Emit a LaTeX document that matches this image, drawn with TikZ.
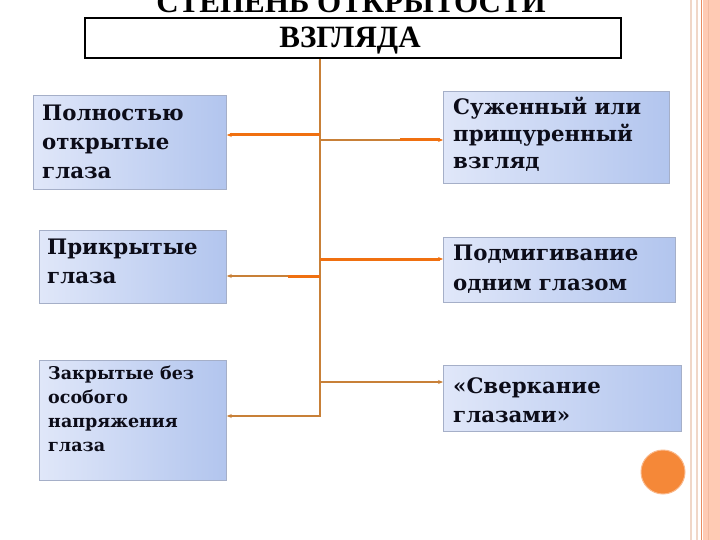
\documentclass[tikz,border=0pt]{standalone}
\usepackage{fontspec}
\setmainfont{DejaVu Serif}
\newfontfamily\titlefont{Liberation Serif}
\newfontfamily\bodyfont{DejaVu Serif}
\usetikzlibrary{arrows.meta}
\definecolor{trunk}{RGB}{200,128,56}
\definecolor{hot}{RGB}{240,112,16}
\definecolor{boxL}{RGB}{224,231,249}
\definecolor{boxR}{RGB}{178,197,238}
\definecolor{boxedge}{RGB}{165,175,200}
\definecolor{peach}{RGB}{255,202,180}
\definecolor{stripeD}{RGB}{232,140,100}
\definecolor{stripeL}{RGB}{240,215,200}
\definecolor{dot}{RGB}{245,136,56}
\definecolor{dotedge}{RGB}{250,185,140}
\definecolor{ink}{RGB}{12,12,24}
\begin{document}
\begin{tikzpicture}[x=1pt,y=-1pt,
  boxnode/.style={draw=boxedge, line width=0.8pt, left color=boxL, right color=boxR, anchor=north west, inner sep=0pt},
  txt/.style={anchor=north west, inner sep=0pt, align=left, font=\bodyfont\bfseries\fontsize{21.3}{29}\selectfont, text=ink},
  ttl/.style={anchor=base, inner sep=0pt, font=\titlefont\bfseries\fontsize{31}{36}\selectfont},
  thinl/.style={draw=trunk, line width=1.2pt},
  thickl/.style={draw=hot, line width=3pt},
  tip/.style={-{Stealth[length=5pt,width=4pt]}}
]
\useasboundingbox (0,0) rectangle (720,540);
\clip (0,0) rectangle (720,540);
% right edge decoration
\fill[peach] (703,0) rectangle (720,540);
\draw[stripeD, line width=1.5pt] (701.5,0) -- (701.5,540);
\draw[stripeD!60, line width=0.8pt] (708,0) -- (708,540);
\draw[stripeL, line width=2pt] (690.5,0) -- (690.5,540);
\draw[stripeL, line width=2pt] (697,0) -- (697,540);
% title
\node[draw=black, line width=2pt, fill=white, anchor=north west, minimum width=536pt, minimum height=40pt, inner sep=0pt] (T) at (84,17) {};
\node[ttl] (T1) at (351,13) {СТЕПЕНЬ ОТКРЫТОСТИ};
\node[ttl] (T2) at (350,48) {ВЗГЛЯДА};
% boxes
\node[boxnode, minimum width=193pt, minimum height=94pt] (L1) at (33,95) {};
\node[boxnode, minimum width=187pt, minimum height=73pt] (L2) at (39,230) {};
\node[boxnode, minimum width=187pt, minimum height=120pt] (L3) at (39,360) {};
\node[boxnode, minimum width=226pt, minimum height=92pt] (R1) at (443,91) {};
\node[boxnode, minimum width=232pt, minimum height=65pt] (R2) at (443,237) {};
\node[boxnode, minimum width=238pt, minimum height=66pt] (R3) at (443,365) {};
% texts
\node[txt] (L1t) at (42,105) {Полностью\\открытые\\глаза};
\node[txt] (L2t) at (47,239) {Прикрытые\\глаза};
\node[txt, font=\bodyfont\bfseries\fontsize{17.5}{24}\selectfont] (L3t) at (48,366) {Закрытые без\\особого\\напряжения\\глаза};
\node[txt, font=\bodyfont\bfseries\fontsize{21.3}{27}\selectfont] (R1t) at (453,97) {Суженный или\\прищуренный\\взгляд};
\node[txt, font=\bodyfont\bfseries\fontsize{21.3}{30}\selectfont] (R2t) at (453,245) {Подмигивание\\одним глазом};
\node[txt, font=\bodyfont\bfseries\fontsize{21.3}{29}\selectfont] (R3t) at (453,377) {«Сверкание\\глазами»};
% connectors
\coordinate (j1) at (320,135);
\coordinate (j2) at (320,140);
\coordinate (k2) at (400,140);
\coordinate (j3) at (320,259);
\coordinate (j4) at (320,276);
\coordinate (k4) at (288,276);
\coordinate (j5) at (320,382);
\coordinate (j6) at (320,416);
\coordinate (k6) at (262,416);
\draw[thinl] (T.south -| j1) -- (j6) -- (k6);
\draw[thickl, tip] (j1) -- (j1 -| L1.east);
\draw[thinl] (j2) -- (k2);
\draw[thickl, tip] (k2) -- (k2 -| R1.west);
\draw[thickl, tip] (j3) -- (j3 -| R2.west);
\draw[thickl] (j4) -- (k4);
\draw[thinl, tip] (k4) -- (k4 -| L2.east);
\draw[thinl, tip] (j5) -- (j5 -| R3.west);
\draw[thickl, draw=trunk, line width=2.4pt, tip] (k6) -- (k6 -| L3.east);
% dot
\fill[dot, draw=dotedge, line width=1pt] (663,472) circle (22pt);
\end{tikzpicture}
\end{document}
